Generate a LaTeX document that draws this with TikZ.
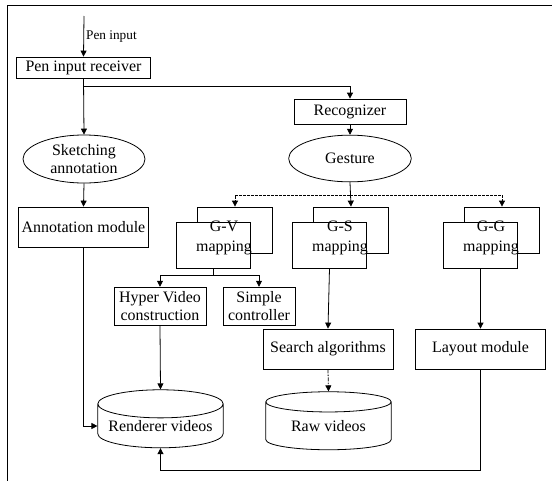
\documentclass[tikz,border=0pt]{standalone}
\usepackage{fontspec}
\setmainfont{Liberation Serif}
\usetikzlibrary{arrows.meta,shapes.geometric}
\tikzset{
	box/.style={draw, fill=white, inner sep=1bp, align=center, font=\fontsize{12}{13.5}\selectfont},
	oval/.style={draw, ellipse, inner sep=0pt, align=center, font=\fontsize{12}{13.5}\selectfont},
	mapback/.style={draw, fill=white, minimum width=56bp, minimum height=34.5bp},
	mapfront/.style={mapback},
	maptext/.style={align=center, inner sep=0pt, font=\fontsize{12}{15}\selectfont},
	dbase/.style={draw, cylinder, shape border rotate=90, aspect=0.27, minimum width=94bp, minimum height=43.5bp, inner sep=0pt, font=\fontsize{12}{13.5}\selectfont},
	arr/.style={-{Triangle[length=4.5bp,width=4.5bp]}},
	fine dash/.style={dash pattern=on 2bp off 1bp},
	dot dash/.style={dash pattern=on 3bp off 1bp on 1bp off 1bp},
}
\def\mapbox(#1)(#2,#3)#4{%
	\node[mapback] (#1back) at (#2+11,#3-7.5) {};
	\node[mapfront] (#1front) at (#2-10.5,#3+7.5) {};
	\node[maptext] (#1text) at (#2,#3) {#4};
}

\begin{document}
\begin{tikzpicture}[x=0.75bp, y=-0.75bp, line width=0.6pt]
		%%%%% START %%%%%
		\useasboundingbox (0,0) rectangle (552,481);
		\draw (7,481) -- (7,5) -- (552,5);
		
		\coordinate (pin) at (84,16);
		\node[box, minimum width=100bp, minimum height=15.75bp] (recv) at (83.5,67.5) {Pen input receiver};
		\node[oval, minimum width=91.5bp, minimum height=36bp] (sketch) at (84,159) {Sketching\\annotation};
		\node[box, minimum width=98bp, minimum height=30bp] (annot) at (83.5,227) {Annotation module};
		
		\node[box, minimum width=84bp, minimum height=18.75bp] (recog) at (350,111.5) {Recognizer};
		\node[oval, minimum width=92bp, minimum height=35bp] (gest) at (350,158.5) {Gesture};
		
		\mapbox(gv)(224,237.5){G-V\\mapping}
		\mapbox(gs)(340,237.5){G-S\\mapping}
		\mapbox(gg)(491,237.5){G-G\\mapping}
		
		\node[box, minimum width=69bp, minimum height=29bp] (hyper) at (160,306.5) {Hyper Video\\construction};
		\node[box, minimum width=54bp, minimum height=29bp] (simple) at (259,306.5) {Simple\\controller};
		\node[box, minimum width=97.5bp, minimum height=30bp] (search) at (328,349) {Search algorithms};
		\node[box, minimum width=97bp, minimum height=30bp] (layout) at (480.5,349) {Layout module};
		
		\node[dbase] (rend) at (160.5,426) {\raisebox{-4bp}{Renderer videos}};
		\node[dbase] (raw) at (328.5,426) {\raisebox{-4bp}{Raw videos}};
		
		% connectors
		\draw[arr] (pin) -- node[right, inner sep=1.5bp, font=\fontsize{10}{12}\selectfont] {Pen input} (recv.north);
		\draw[arr] (recv.south) -- (sketch.north);
		\coordinate (split) at (84,86);
		\draw[arr] (split) -| (recog.north);
		\draw[arr] (recog.south) -- (gest.north);
		\draw[arr] (sketch.south) -- (annot.north);
		
		\coordinate (fork) at (350,195);
		\draw[arr] (gest.south) -- (gsback.north);
		\draw[arr, fine dash] (fork) -| (gvback.north);
		\draw[arr, fine dash] (fork) -| (ggback.north);
		
		\draw (gvfront.south) -- ++(0,7) coordinate (gvfork);
		\draw[arr] (gvfork) -| (hyper.north);
		\draw[arr] (gvfork) -| (simple.north);
		\draw[arr] (gsfront.south) -- (search.north);
		\draw[arr] (ggfront.south) -- (layout.north);
		
		\draw[arr] (annot.south) |- (rend.west);
		\draw[arr] (hyper.south) -- (rend.north);
		\draw[arr, dot dash] (search.south) -- (raw.north);
		\draw[arr] (layout.south) -- ++(0,101) -| (rend.south);
		%%%%% END %%%%%
\end{tikzpicture}
\end{document}
